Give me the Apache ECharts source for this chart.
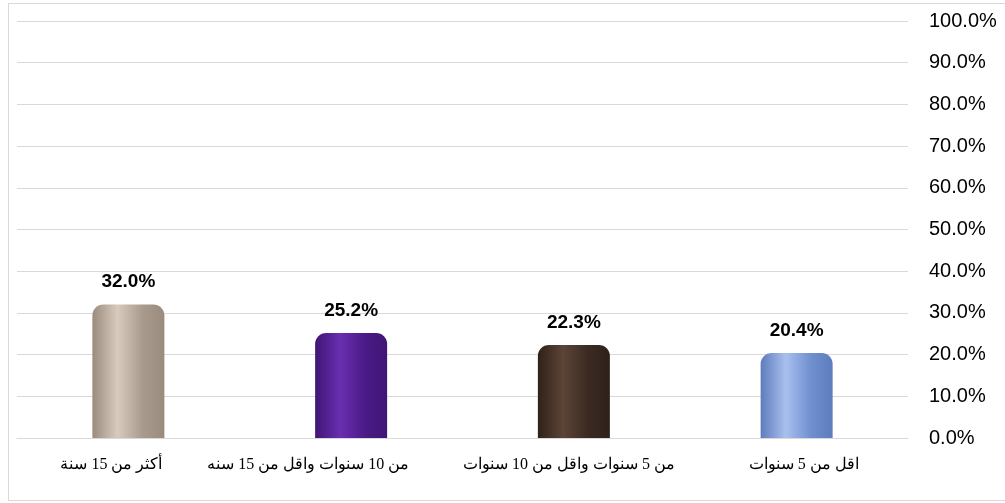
<!DOCTYPE html>
<html><head><meta charset="utf-8">
<script src="https://cdn.jsdelivr.net/npm/echarts@6/dist/echarts.min.js"></script>
<style>
html,body{margin:0;padding:0;background:#fff;}
#wrap{position:absolute;left:8px;top:3px;width:1000px;height:498px;border:1px solid #d9d9d9;box-sizing:border-box;}
#c{position:absolute;left:0;top:0;width:1005px;height:503px;}
</style></head>
<body>
<div id="wrap"></div>
<div id="c"></div>
<script>
const categories = ["اقل من 5 سنوات", "من 5 سنوات واقل من 10 سنوات", "من 10 سنوات واقل من 15 سنه", "أكثر من 15 سنة"];
const values = [20.4, 22.3, 25.2, 32.0];
const barColors = [
  ["#6f8fcf", "#a9c0ee", "#5e7cbc"],
  ["#3a2a22", "#5c4436", "#2f211a"],
  ["#4a1a86", "#6a2fb0", "#3f1575"],
  ["#a89a8c", "#d8cbbd", "#9a8b7d"]
];
// horizontal label nudges (px) per category, to mimic the reference layout
const labelShift = [7, -5, -43, -17];

function grad(c){
  return new echarts.graphic.LinearGradient(0,0,1,0,[
    {offset:0,color:c[2]},{offset:0.35,color:c[1]},{offset:0.7,color:c[0]},{offset:1,color:c[2]}
  ]);
}
const rich = {};
labelShift.forEach((s,i)=>{
  rich['l'+i] = {fontFamily:'Liberation Serif', fontSize:16, color:'#000',
    padding: s>=0 ? [0,0,0,2*s] : [0,-2*s,0,0]};
});

const chart = echarts.init(document.getElementById('c'), null, {renderer:'canvas'});
chart.setOption({
  animation:false,
  grid:{left:17, right:97, top:21, bottom:65, containLabel:false},
  xAxis:{
    type:'category', data:categories, inverse:true,
    axisLine:{show:true, lineStyle:{color:'#d9d9d9'}},
    axisTick:{show:false},
    axisLabel:{color:'#000', fontFamily:'Liberation Serif', fontSize:16, margin:19, interval:0,
      formatter:(v,i)=>'{l'+i+'|'+v+'}', rich:rich}
  },
  yAxis:{
    type:'value', position:'right', min:0, max:100, interval:10,
    axisLine:{show:false}, axisTick:{show:false},
    splitLine:{lineStyle:{color:'#d9d9d9', width:1}},
    axisLabel:{color:'#000', fontFamily:'Liberation Sans', fontSize:20, margin:21,
      formatter:v=>v.toFixed(1)+'%'}
  },
  series:[{
    type:'bar', barWidth:72,
    data: values.map((v,i)=>({value:v, itemStyle:{color:grad(barColors[i]), borderRadius:[11,11,0,0]}})),
    label:{show:true, position:'top', distance:13, color:'#000', fontWeight:'bold',
      fontFamily:'Liberation Sans', fontSize:19, formatter:p=>p.value.toFixed(1)+'%'}
  }]
});
</script>
</body></html>
